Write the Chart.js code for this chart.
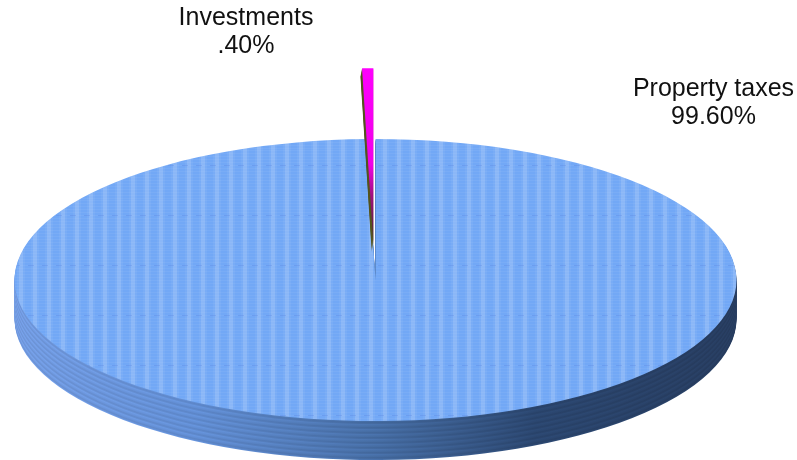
<!DOCTYPE html>
<html>
<head>
<meta charset="utf-8">
<style>
  html, body { margin: 0; padding: 0; background: #fff; overflow: hidden; }
  canvas { display: block; }
</style>
<script src="https://cdn.jsdelivr.net/npm/chart.js@4"></script>
</head>
<body>
<canvas id="pie" width="797" height="460"></canvas>
<script>
const categories = ['Property taxes', 'Investments'];
const shares = [99.60, 0.40];
const valueLabels = ['99.60%', '.40%'];
const labelCenters = [[713.5, 96], [246, 25]];

// the pie is flattened into an ellipse, depth is stacked copies of the arcs
const centerX = 375.5, centerY = 280, radiusX = 361, radiusY = 141, depth = 39;
const squash = radiusY / radiusX;
// pulled-out slice: the offset option loses such a thin arc, so it is moved here
const wedgeLift = 92, wedgeRadius = 450;

function makeTile() {
  const tile = document.createElement('canvas');
  tile.width = 14;
  tile.height = 50;
  const c = tile.getContext('2d');
  c.fillStyle = '#72a8f6';
  c.fillRect(0, 0, 14, 50);
  c.fillStyle = 'rgba(255,255,255,0.14)';
  c.fillRect(5, 0, 4, 50);
  c.fillStyle = 'rgba(255,255,255,0.05)';
  c.fillRect(3, 0, 8, 50);
  for (let y = 0; y < 50; y += 3) {
    c.fillStyle = 'rgba(255,255,255,0.05)';
    c.fillRect(0, y, 14, 1);
  }
  c.fillStyle = 'rgba(60,100,215,0.2)';
  c.fillRect(0, 15, 6, 1);
  return tile;
}

const topPattern = document.createElement('canvas').getContext('2d').createPattern(makeTile(), 'repeat');

function withColor(arc, color, ctx) {
  const saved = arc.options;
  arc.options = Object.assign({}, saved, { backgroundColor: color, borderWidth: 0 });
  arc.draw(ctx);
  arc.options = saved;
}

function sideGradient(ctx, arc, shade) {
  const g = ctx.createLinearGradient(arc.x - radiusX, 0, arc.x + radiusX, 0);
  const stops = [[0, [118, 160, 232]], [0.25, [100, 145, 216]], [0.5, [72, 112, 168]], [0.72, [44, 72, 114]], [1, [40, 62, 98]]];
  stops.forEach(([at, rgb]) => {
    g.addColorStop(at, 'rgb(' + rgb.map(v => Math.round(v * shade)).join(',') + ')');
  });
  return g;
}

const pie3d = {
  id: 'pie3d',
  beforeDatasetsDraw(chart) {
    const ctx = chart.ctx;
    const big = chart.getDatasetMeta(0).data[0];
    topPattern.setTransform(new DOMMatrix()
      .translate(big.x, big.y).scale(1, 1 / squash).translate(-centerX, -centerY));
    ctx.save();
    ctx.translate(centerX, centerY);
    ctx.scale(1, squash);
    ctx.translate(-big.x, -big.y);
    const shades = [1, 0.97, 0.92, 0.95, 1.03].map(s => sideGradient(ctx, big, s));
    for (let d = depth; d >= 1; d--) {
      ctx.save();
      ctx.translate(0, d / squash);
      withColor(big, shades[d % shades.length], ctx);
      ctx.restore();
    }
  },
  afterDatasetsDraw(chart) {
    const ctx = chart.ctx;
    const wedge = chart.getDatasetMeta(0).data[1];
    const half = (wedge.startAngle + wedge.endAngle) / 2;
    const liftX = Math.cos(half) * wedgeLift - 1;
    const liftY = Math.sin(half) * wedgeLift;
    const toLocal = y => wedge.y + (y - centerY) / squash - liftY;
    const savedRadius = wedge.outerRadius;
    wedge.outerRadius = wedgeRadius;
    for (let d = 8; d >= 1; d--) {
      ctx.save();
      ctx.translate(liftX - d * 0.2, liftY + d / squash);
      withColor(wedge, '#55551f', ctx);
      ctx.restore();
    }
    ctx.save();
    ctx.translate(liftX, liftY);
    const g = ctx.createLinearGradient(0, toLocal(60), 0, toLocal(240));
    g.addColorStop(0, '#ff00ff');
    g.addColorStop(0.58, '#f000e8');
    g.addColorStop(0.75, '#a01080');
    g.addColorStop(1, '#4a2a30');
    withColor(wedge, g, ctx);
    ctx.restore();
    wedge.outerRadius = savedRadius;
    ctx.restore();
  },
  afterDraw(chart) {
    const ctx = chart.ctx;
    ctx.save();
    ctx.fillStyle = '#111';
    ctx.font = '25px "Liberation Sans", Arial, sans-serif';
    ctx.textAlign = 'center';
    categories.forEach((name, i) => {
      ctx.fillText(name, labelCenters[i][0], labelCenters[i][1]);
      ctx.fillText(valueLabels[i], labelCenters[i][0], labelCenters[i][1] + 28);
    });
    ctx.restore();
  }
};

new Chart(document.getElementById('pie'), {
  type: 'pie',
  data: {
    labels: categories,
    datasets: [{
      data: shares,
      backgroundColor: [topPattern, 'rgba(0,0,0,0)'],
      borderWidth: 0,
      clip: false
    }]
  },
  options: {
    responsive: false,
    animation: false,
    radius: radiusX,
    layout: { padding: 0 },
    plugins: { legend: { display: false }, tooltip: { enabled: false } }
  },
  plugins: [pie3d]
});
</script>
</body>
</html>
